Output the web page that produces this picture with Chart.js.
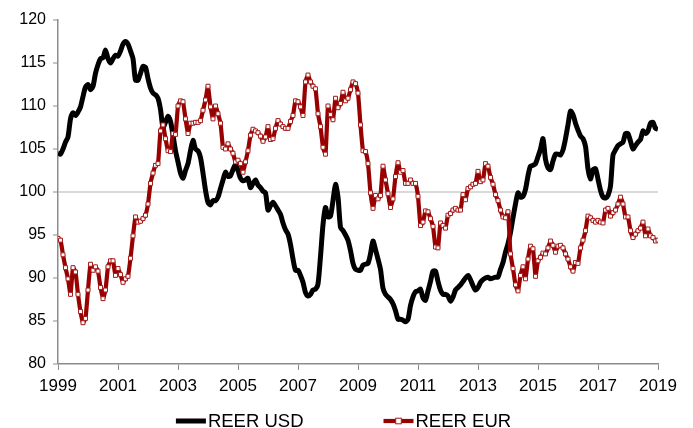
<!DOCTYPE html>
<html><head><meta charset="utf-8">
<script src="https://cdn.jsdelivr.net/npm/chart.js@4.4.1/dist/chart.umd.min.js"></script>
<style>html,body{margin:0;padding:0;background:#fff;}canvas{display:block;}</style>
</head><body>
<canvas id="c" width="693" height="428"></canvas>
<script>
// Monthly data, Jan 1999 .. Jan 2019
const startYear = 1999;
const seriesNames = ['REER USD', 'REER EUR'];
const usd = [
104.5,104.4,105.0,105.8,106.4,108.5,109.2,108.9,109.3,109.9,
111.1,112.2,112.5,111.9,112.3,113.8,114.8,115.5,115.6,116.5,
115.5,115.0,115.5,115.9,115.8,116.4,117.2,117.5,117.2,116.4,
115.5,113.0,113.0,113.8,114.6,114.5,113.2,112.1,111.5,111.3,
110.9,109.6,107.5,108.1,108.8,108.2,106.6,104.8,103.5,102.2,
101.6,102.5,103.3,104.8,106.0,105.0,104.8,104.0,102.2,100.2,
98.8,98.5,99.0,99.0,99.4,100.4,101.4,102.3,101.8,101.9,
102.6,103.2,102.5,101.6,101.3,101.4,101.6,100.5,101.0,101.4,
100.8,100.5,100.1,99.9,97.9,98.4,98.8,98.4,97.9,97.4,
96.4,95.6,95.1,93.9,92.2,90.9,90.9,90.3,89.5,88.3,
87.9,88.1,88.6,88.7,89.3,92.5,96.2,98.2,97.1,97.2,
99.0,100.9,99.4,95.9,95.5,95.0,94.4,93.2,91.7,91.0,
90.9,90.9,91.5,91.6,91.7,92.8,94.3,93.3,92.2,91.0,
88.8,88.1,87.8,87.5,87.0,86.2,85.2,85.2,85.1,84.9,
85.2,86.8,87.8,88.4,88.5,88.7,87.7,87.4,88.5,89.6,
90.8,90.8,89.6,88.6,88.1,88.1,87.9,87.3,87.8,88.6,
88.9,89.2,89.6,90.0,90.3,89.8,89.1,88.6,88.9,89.5,
89.8,90.0,90.1,89.9,90.0,90.1,90.1,91.0,91.8,93.0,
94.0,95.3,97.0,98.6,99.9,99.4,99.5,100.3,101.9,103.0,
103.1,103.3,104.1,105.0,106.2,103.8,102.8,102.6,103.6,104.4,
104.4,104.3,104.9,106.2,107.8,109.4,109.0,108.0,107.2,106.5,
106.2,105.3,102.7,101.5,102.6,102.7,101.5,100.2,99.4,99.3,
99.6,100.7,104.3,104.9,105.4,105.6,105.8,106.8,106.8,105.9,
105.0,105.4,105.8,106.1,107.1,106.8,107.1,108.0,108.1,107.4,
107.3
];
const eur = [
94.6,94.4,92.7,91.2,89.9,88.1,91.2,90.7,88.1,86.1,
84.8,85.3,88.6,91.6,90.9,91.3,90.8,88.9,87.6,88.6,
91.3,92.0,92.0,90.3,91.1,90.4,89.5,89.9,90.2,92.3,
94.9,97.1,96.5,96.6,96.9,97.3,98.6,101.0,102.2,103.1,
103.3,107.1,107.8,106.2,104.8,104.7,106.8,106.7,110.0,110.6,
110.5,108.5,106.8,108.0,108.0,108.1,108.1,108.3,109.5,110.7,
112.3,109.9,108.5,110.0,109.1,108.0,105.2,105.0,105.6,105.0,
104.5,103.5,103.7,103.3,102.3,103.5,104.8,106.6,107.3,107.1,
106.9,106.5,105.9,106.4,107.6,106.1,106.2,107.4,108.3,107.9,
107.6,107.4,107.4,108.2,108.9,110.6,110.5,109.9,108.9,112.8,
113.6,112.8,112.3,112.0,109.1,107.6,105.2,104.4,110.0,109.0,
108.4,110.9,109.8,110.3,111.6,110.6,110.9,111.9,112.8,112.6,
111.5,107.8,104.8,104.7,103.3,99.9,98.1,99.6,99.2,99.6,
103.0,101.4,99.8,98.2,99.2,101.8,103.4,102.3,102.5,101.0,
101.0,101.4,101.0,101.0,99.5,96.1,96.5,97.8,97.7,96.9,
96.0,93.6,93.5,96.4,96.1,95.8,97.3,97.5,97.9,98.1,
97.9,97.9,99.7,99.1,100.4,100.6,100.9,101.0,102.4,101.2,
101.4,103.3,103.0,101.7,100.9,99.7,99.0,97.9,97.1,97.0,
97.7,92.8,91.1,89.2,88.5,90.3,91.3,89.9,92.2,93.7,
93.4,90.2,92.0,92.4,92.9,92.8,93.5,94.3,93.8,93.0,
93.7,93.8,93.5,92.8,92.2,91.3,90.8,91.8,91.7,93.5,
94.4,95.5,97.2,97.0,96.7,96.5,96.7,96.5,96.4,97.9,
98.1,97.2,97.6,97.9,98.6,99.4,98.6,97.1,97.1,95.5,
94.7,95.1,95.5,95.8,96.5,94.9,95.7,94.9,94.7,94.3,
94.4
];
const xTicks = [1999,2001,2003,2005,2007,2009,2011,2013,2015,2017,2019];
const yTicks = [80,85,90,95,100,105,110,115,120];
const refLine = 100;

const toPoints = arr => arr.map((v, i) => ({x: startYear + i / 12, y: v}));

const FONT = "'Liberation Sans', Arial, sans-serif";
Chart.defaults.font.family = FONT;

const AXIS = '#8c8c8c';

const legendPlugin = {
  id: 'customLegend',
  afterDraw(chart) {
    const ctx = chart.ctx;
    ctx.save();
    ctx.font = '18.5px ' + FONT;
    const y = 421, lineW = 30, gapText = 2, gapItem = 80;
    const items = chart.data.datasets.map(ds => ({ds, w: ctx.measureText(ds.label).width}));
    const total = items.reduce((s, it) => s + lineW + gapText + it.w, 0) + gapItem * (items.length - 1);
    let x = (chart.width - total) / 2 - 3;
    items.forEach(it => {
      const ds = it.ds;
      ctx.strokeStyle = ds.borderColor;
      ctx.lineWidth = ds.borderWidth;
      ctx.lineCap = 'butt';
      ctx.beginPath(); ctx.moveTo(x, y); ctx.lineTo(x + lineW, y); ctx.stroke();
      if (ds.pointRadius > 0) {
        const r = ds.pointRadius;
        ctx.fillStyle = ds.pointBackgroundColor;
        ctx.strokeStyle = ds.pointBorderColor;
        ctx.lineWidth = ds.pointBorderWidth;
        ctx.fillRect(x + lineW / 2 - r, y - r, 2 * r, 2 * r);
        ctx.strokeRect(x + lineW / 2 - r, y - r, 2 * r, 2 * r);
      }
      ctx.fillStyle = '#000';
      ctx.textBaseline = 'middle';
      ctx.textAlign = 'left';
      ctx.fillText(ds.label, x + lineW + gapText, y + 1);
      x += lineW + gapText + it.w + gapItem;
    });
    ctx.restore();
  }
};

new Chart(document.getElementById('c'), {
  type: 'line',
  data: {
    datasets: [
      {
        label: seriesNames[0], data: toPoints(usd), order: 1,
        borderColor: '#000000', borderWidth: 5, pointRadius: 0,
        tension: 0.25, fill: false
      },
      {
        label: seriesNames[1], data: toPoints(eur), order: 0,
        borderColor: '#990000', borderWidth: 4.2, tension: 0.15, fill: false,
        pointStyle: 'rect', pointRadius: 2.8,
        pointBackgroundColor: '#ffffff', pointBorderColor: '#a61c1c', pointBorderWidth: 1
      }
    ]
  },
  options: {
    responsive: false,
    animation: false,
    events: [],
    layout: {padding: {left: 0, right: 35, top: 20, bottom: 30}},
    plugins: {legend: {display: false}, tooltip: {enabled: false}},
    scales: {
      x: {
        type: 'linear', min: 1999, max: 2019,
        afterBuildTicks: s => { s.ticks = xTicks.map(v => ({value: v})); },
        afterFit: s => { s.height = 34; },
        ticks: {
          autoSkip: false, maxRotation: 0, color: '#000', padding: 6,
          font: {size: 17}, callback: v => String(v)
        },
        grid: {drawOnChartArea: false, drawTicks: true, tickLength: 6, tickColor: AXIS, tickWidth: 1},
        border: {display: true, color: AXIS, width: 1.5}
      },
      y: {
        min: 80, max: 120,
        afterBuildTicks: s => { s.ticks = yTicks.map(v => ({value: v})); },
        afterFit: s => { s.width = 58; },
        ticks: {color: '#000', padding: 7, font: {size: 16}},
        grid: {
          drawTicks: true, tickLength: 5, tickColor: AXIS, tickWidth: 1,
          color: c => (c.tick && c.tick.value === refLine) ? '#d9d9d9' : 'rgba(0,0,0,0)',
          lineWidth: c => (c.tick && c.tick.value === refLine) ? 2 : 0
        },
        border: {display: true, color: AXIS, width: 1.5}
      }
    }
  },
  plugins: [legendPlugin]
});
</script>
</body></html>
